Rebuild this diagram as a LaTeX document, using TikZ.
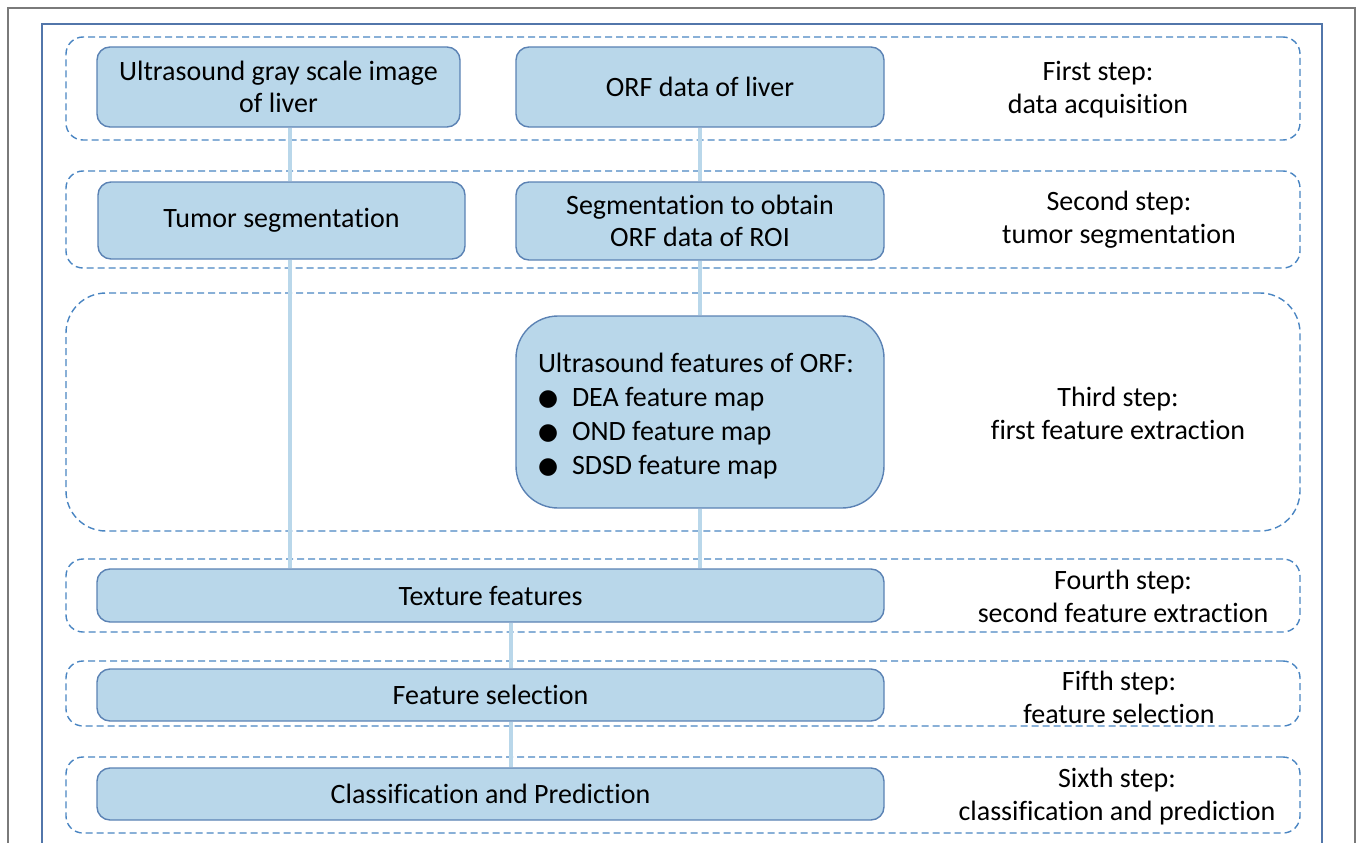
\documentclass[tikz,border=0pt]{standalone}
\usepackage{fontspec}
\setmainfont{Carlito}[Ligatures=NoCommon]
\newfontfamily\dejavu{DejaVu Sans}
\definecolor{boxfill}{HTML}{B9D7EA}
\definecolor{boxline}{HTML}{5B82B4}
\definecolor{dashblue}{HTML}{4A85C2}
\definecolor{linkblue}{HTML}{B9D7EA}
\definecolor{frameblue}{HTML}{5276AA}
\definecolor{framegray}{HTML}{7A7A7A}
\tikzset{
  x=1pt, y=-1pt,
  box/.style={draw=boxline, fill=boxfill, line width=1.4pt, rounded corners=13pt,
    font=\fontsize{28}{32}\selectfont, align=center, inner sep=0pt},
  group/.style={draw=dashblue, line width=1.4pt, dash pattern=on 7pt off 4pt,
    rounded corners=17pt, inner sep=0pt, minimum width=1234pt},
  steplabel/.style={font=\fontsize{28}{33}\selectfont, align=center, inner sep=0pt},
  link/.style={draw=linkblue, line width=4pt}
}
\newcommand{\blt}{\makebox[34pt][l]{\raisebox{1pt}{\dejavu\fontsize{23}{23}\selectfont ●}}}
\begin{document}
\begin{tikzpicture}
\useasboundingbox (0,0) rectangle (1358,843);
% outer frames (open at the bottom)
\draw[framegray, line width=1.5pt] (8,850) -- (8,8) -- (1355,8) -- (1355,850);
\draw[frameblue, line width=2pt] (42,850) -- (42,24) -- (1322,24) -- (1322,850);

% dashed step groups
\node[group, minimum height=103pt] (g1) at (683,88.5) {};
\node[group, minimum height=97pt]  (g2) at (683,219.5) {};
\node[group, minimum height=238pt, rounded corners=40pt] (g3) at (683,412) {};
\node[group, minimum height=73pt]  (g4) at (683,595.5) {};
\node[group, minimum height=65pt]  (g5) at (683,693.5) {};
\node[group, minimum height=76pt]  (g6) at (683,795) {};

% process boxes
\node[box, minimum width=363pt, minimum height=80pt] (b1) at (278.5,87)
  {Ultrasound gray scale image\\of liver};
\node[box, minimum width=368pt, minimum height=80pt] (b2) at (700,87)
  {ORF data of liver};
\node[box, minimum width=367pt, minimum height=77pt] (b3) at (281.5,220.5)
  {Tumor segmentation};
\node[box, minimum width=368pt, minimum height=78pt] (b4) at (700,221)
  {Segmentation to obtain\\ORF data of ROI};
\node[box, minimum width=368pt, minimum height=192pt, rounded corners=42pt,
  align=flush left, text width=340pt, font=\fontsize{28}{34}\selectfont] (b5) at (700,412)
  {\rule{0pt}{27pt}\hspace*{8pt}Ultrasound features of ORF:\\
   \hspace*{8pt}\blt DEA feature map\\
   \hspace*{8pt}\blt OND feature map\\
   \hspace*{8pt}\blt SDSD feature map};
\node[box, minimum width=787pt, minimum height=53pt] (b6) at (490.5,595.5)
  {Texture features};
\node[box, minimum width=787pt, minimum height=52pt] (b7) at (490.5,695)
  {Feature selection};
\node[box, minimum width=787pt, minimum height=52pt] (b8) at (490.5,794)
  {Classification and Prediction};

% step descriptions
\node[steplabel] (s1) at (1098,90) {First step:\\data acquisition};
\node[steplabel] (s2) at (1119,220) {Second step:\\tumor segmentation};
\node[steplabel] (s3) at (1118,413) {Third step:\\first feature extraction};
\node[steplabel] (s4) at (1123,596) {Fourth step:\\second feature extraction};
\node[steplabel] (s5) at (1119,697) {Fifth step:\\feature selection};
\node[steplabel] (s6) at (1117,797) {Sixth step:\\classification and prediction};

% connectors
\coordinate (lx) at (290,0);
\coordinate (mx) at (511,0);
\draw[link] (b1.south -| lx) -- (b3.north -| lx);
\draw[link] (b2.south) -- (b4.north);
\draw[link] (b3.south -| lx) -- (b6.north -| lx);
\draw[link] (b4.south) -- (b5.north);
\draw[link] (b5.south) -- (b6.north -| b5.south);
\draw[link] (b6.south -| mx) -- (b7.north -| mx);
\draw[link] (b7.south -| mx) -- (b8.north -| mx);
\end{tikzpicture}
\end{document}
